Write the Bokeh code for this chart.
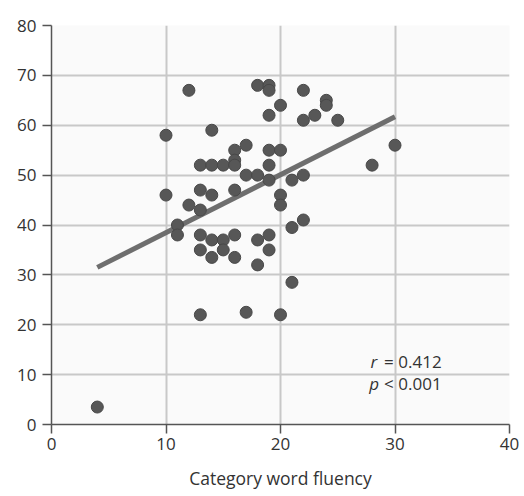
from bokeh.plotting import figure
from bokeh.models import Range1d, FixedTicker, Label, ColumnDataSource
from bokeh.embed import file_html
from bokeh.resources import INLINE

fluency = [4,
           10, 10,
           11, 11,
           12, 12,
           13, 13, 13, 13, 13, 13,
           14, 14, 14, 14, 14,
           15, 15, 15,
           16, 16, 16, 16, 16, 16,
           17, 17, 17,
           18, 18, 18, 18,
           19, 19, 19, 19, 19, 19, 19, 19,
           20, 20, 20, 20, 20,
           21, 21, 21,
           22, 22, 22, 22,
           23,
           24, 24,
           25,
           28,
           30]
score = [3.5,
         58, 46,
         40, 38,
         67, 44,
         52, 47, 43, 38, 35, 22,
         59, 52, 46, 37, 33.5,
         52, 37, 35,
         55, 53, 52, 47, 38, 33.5,
         56, 50, 22.5,
         68, 50, 37, 32,
         68, 67, 62, 55, 52, 49, 38, 35,
         64, 55, 46, 44, 22,
         49, 39.5, 28.5,
         67, 61, 50, 41,
         62,
         65, 64,
         61,
         52,
         56]
fit_x = [4, 30]
fit_y = [31.5, 61.7]

x_ticks = [0, 10, 20, 30, 40]
y_ticks = [0, 10, 20, 30, 40, 50, 60, 70, 80]
x_grid = [10, 20, 30]
y_grid = [10, 20, 30, 40, 50, 60, 70]

FONT = "Open Sans"
TXT = "#333333"

p = figure(width=521, height=493, output_backend="svg", toolbar_location=None,
           x_range=Range1d(0, 40), y_range=Range1d(0, 80),
           min_border_left=51, min_border_right=12, min_border_top=25, min_border_bottom=69)
p.outline_line_color = None
p.background_fill_color = "#fafafa"
p.border_fill_color = "white"

p.xaxis.ticker = FixedTicker(ticks=x_ticks)
p.yaxis.ticker = FixedTicker(ticks=y_ticks)
p.xgrid.ticker = FixedTicker(ticks=x_grid)
p.ygrid.ticker = FixedTicker(ticks=y_grid)
for g in (p.xgrid, p.ygrid):
    g.grid_line_color = "#c8c8c8"
    g.grid_line_width = 2

for ax in (p.xaxis, p.yaxis):
    ax.axis_line_color = "#555555"
    ax.axis_line_width = 1.5
    ax.major_tick_line_color = "#555555"
    ax.major_tick_line_width = 1.5
    ax.major_tick_out = 9
    ax.major_tick_in = 0
    ax.minor_tick_line_color = None
    ax.major_label_text_font = FONT
    ax.major_label_text_font_size = "17px"
    ax.major_label_text_color = TXT
p.xaxis.major_label_standoff = 4
p.yaxis.major_label_standoff = 6
p.xaxis.axis_label = "Category word fluency"
p.xaxis.axis_label_text_font = FONT
p.xaxis.axis_label_text_font_size = "17.5px"
p.xaxis.axis_label_text_font_style = "normal"
p.xaxis.axis_label_text_color = TXT
p.xaxis.axis_label_standoff = 13

src = ColumnDataSource(dict(x=fluency, y=score))
p.line(fit_x, fit_y, line_color="#6e6e6e", line_width=5)
p.scatter("x", "y", source=src, size=12, fill_color="#575757", line_color="#484848", line_width=1)

for txt, x, y, style in [("r", 27.85, 12.7, "italic"), ("= 0.412", 29.05, 12.7, "normal"),
                         ("p", 27.75, 8.3, "italic"), ("< 0.001", 29.05, 8.3, "normal")]:
    p.add_layout(Label(x=x, y=y, text=txt, text_font=FONT, text_font_size="17px",
                       text_font_style=style, text_color=TXT, text_baseline="middle",
                       text_align="left"))

open("out.html", "w").write(file_html(p, INLINE))
